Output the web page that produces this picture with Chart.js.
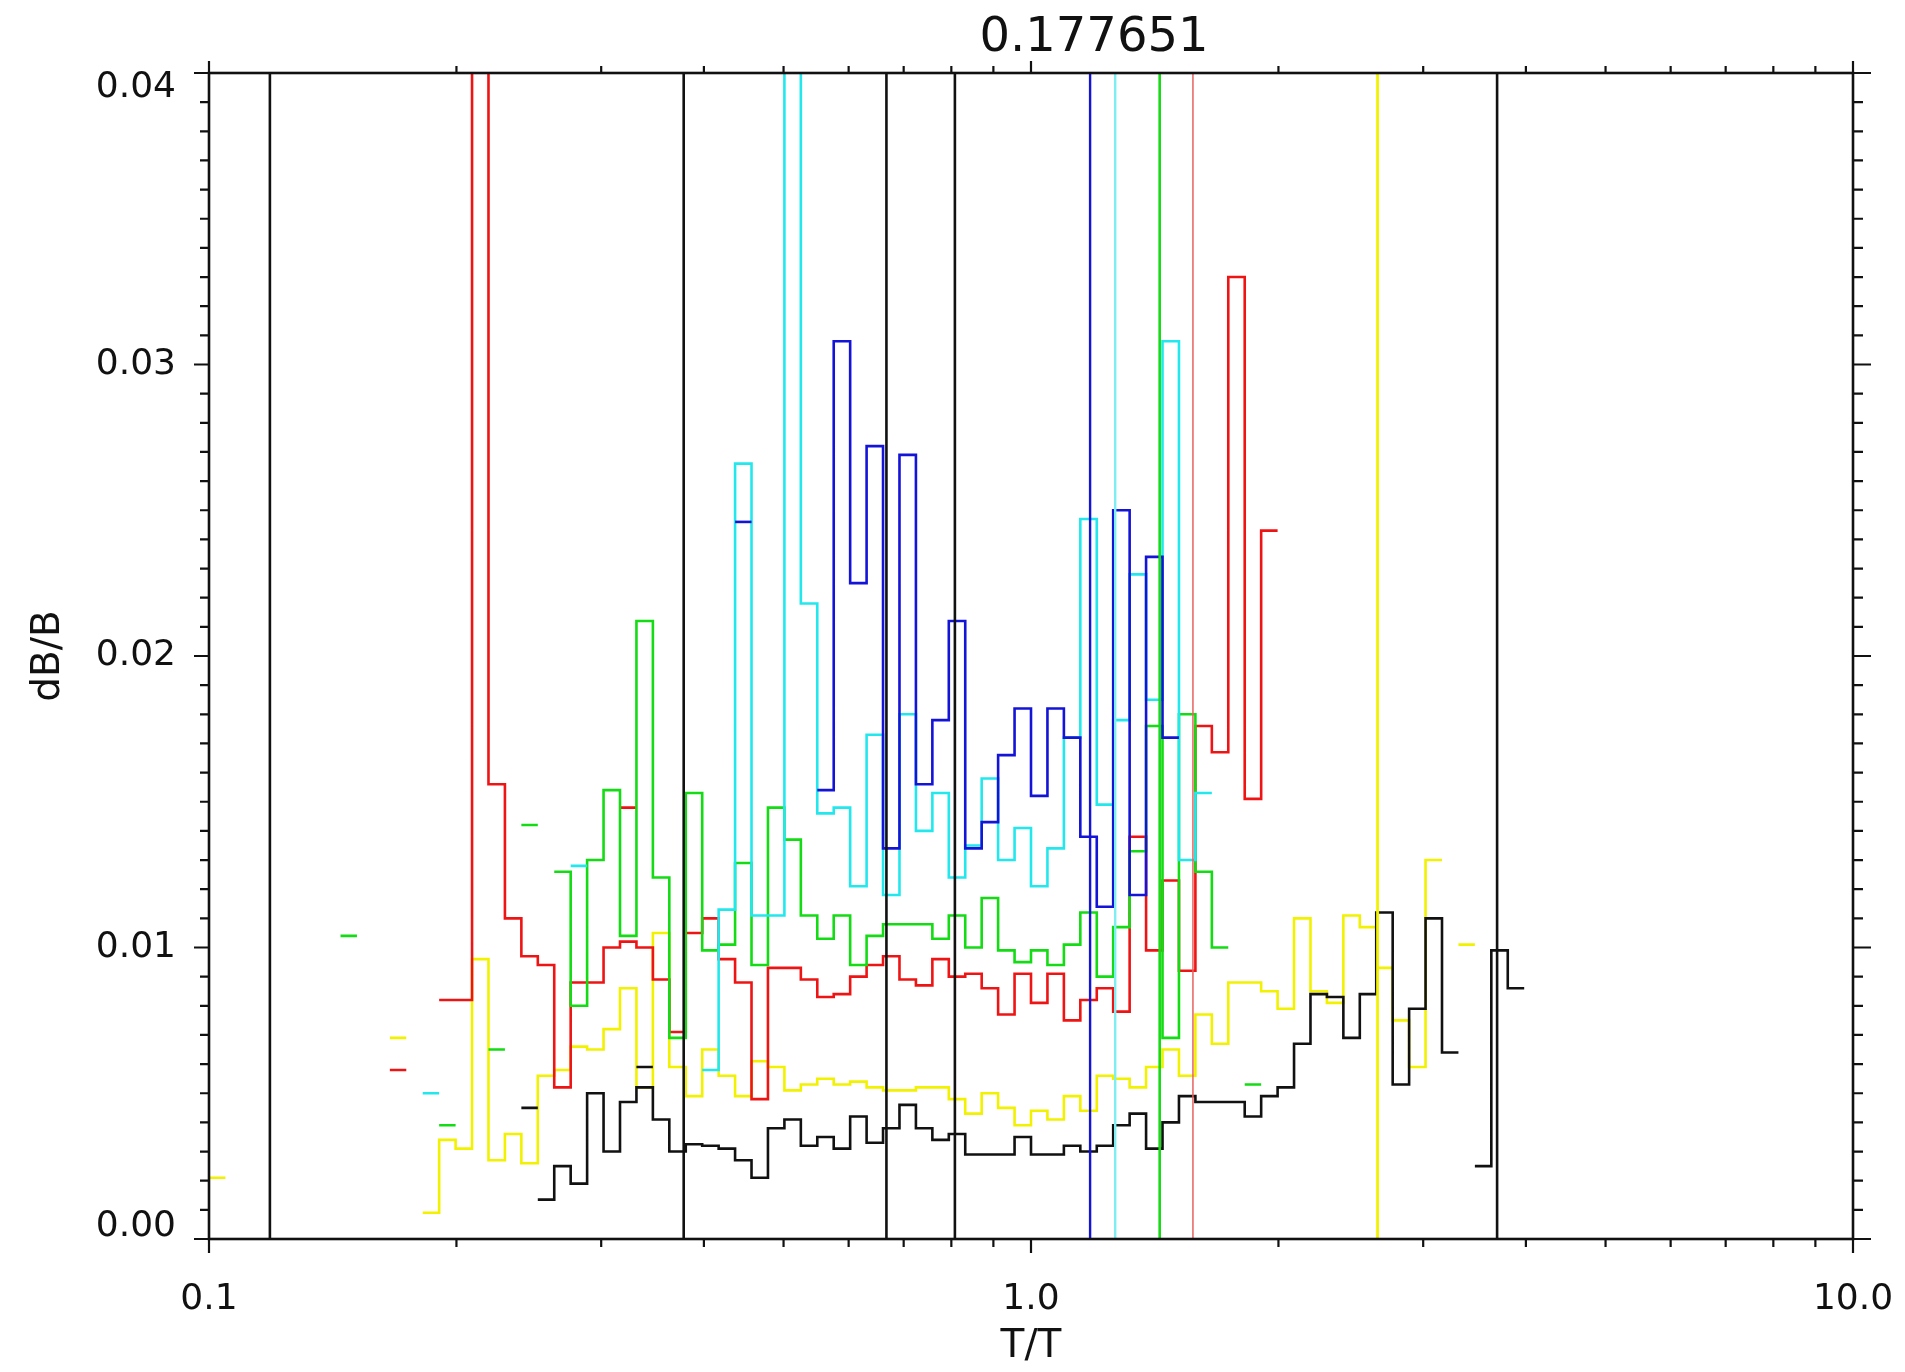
<!DOCTYPE html>
<html>
<head>
<meta charset="utf-8">
<script src="https://cdn.jsdelivr.net/npm/chart.js@4/dist/chart.umd.min.js"></script>
<style>
html,body{margin:0;padding:0;background:#ffffff;}
canvas{display:block;}
</style>
</head>
<body>
<canvas id="c" width="1905" height="1372" style="width:1905px;height:1372px"></canvas>
<script>
// ---------------- text ----------------
const titleText = '0.177651';
const xAxisLabel = 'T/T';
const yAxisLabel = 'dB/B';
const xTickValues = [0.1, 1, 10];
const xTickLabels = ['0.1', '1.0', '10.0'];
const yTickValues = [0, 0.01, 0.02, 0.03, 0.04];
const yTickLabels = ['0.00', '0.01', '0.02', '0.03', '0.04'];
const xRange = [0.1, 10];
const yRange = [0, 0.04];

// ---------------- bins ----------------
// histogram bins are 0.02 dex wide in T/T; bin k spans 10^(0.02k) .. 10^(0.02(k+1))
const binLogWidth = 0.02;

// ---------------- series (dB/B per bin, null = empty bin) ----------------
const blackFrom = -30;
const blackVals = [0.00135, 0.0025, 0.0019, 0.0050, 0.0030, 0.0047, 0.0052, 0.0041, 0.0030, 0.00325,
  0.0032, 0.0031, 0.0027, 0.0021, 0.0038, 0.0041, 0.0032, 0.0035, 0.0031, 0.0042,
  0.0033, 0.0038, 0.0046, 0.0038, 0.0034, 0.0036, 0.0029, 0.0029, 0.0029, 0.0035,
  0.0029, 0.0029, 0.0032, 0.0030, 0.0032, 0.0039, 0.0043, 0.0031, 0.0040, 0.0049,
  0.0047, 0.0047, 0.0047, 0.0042, 0.0049, 0.0052, 0.0067, 0.0084, 0.0083, 0.0069,
  0.0084, 0.0112, 0.0053, 0.0079, 0.0110, 0.0064, null, 0.0025, 0.0099, 0.0086];
const blackDashBins = [-31, -24];
const blackDashVals = [0.0045, 0.0059];

const yellowFrom = -37;
const yellowVals = [0.0009, 0.0034, 0.0031, 0.0096, 0.0027, 0.0036, 0.0026,
  0.0056, 0.0058, 0.0066, 0.0065, 0.0072, 0.0086, 0.0052, 0.0105, 0.0059, 0.0049,
  0.0065, 0.0056, 0.0049, 0.0061, 0.0059, 0.0051, 0.0053, 0.0055, 0.0053, 0.0054,
  0.0052, 0.0051, 0.0051, 0.0052, 0.0052, 0.0048, 0.0043, 0.0050, 0.0045, 0.0039,
  0.0044, 0.0041, 0.0049, 0.0044, 0.0056, 0.0055, 0.0052, 0.0059, 0.0065, 0.0056,
  0.0077, 0.0067, 0.0088, 0.0088, 0.0085, 0.0079, 0.0110, 0.0085, 0.0081, 0.0111,
  0.0107, 0.0093, 0.0075, 0.0059, 0.0130];
const yellowDashBins = [-50, -39, 26];
const yellowDashVals = [0.0021, 0.0069, 0.0101];

const redFrom = -36;
const redVals = [0.0082, 0.0082, 0.0600, 0.0156, 0.0110, 0.0097,
  0.0094, 0.0052, 0.0088, 0.0088, 0.0100, 0.0102, 0.0100, 0.0089, 0.0071, 0.0105,
  0.0110, 0.0096, 0.0088, 0.0048, 0.0093, 0.0093, 0.0089, 0.0083, 0.0084, 0.0090,
  0.0094, 0.0097, 0.0089, 0.0087, 0.0096, 0.0090, 0.0091, 0.0086, 0.0077, 0.0091,
  0.0081, 0.0091, 0.0075, 0.0082, 0.0086, 0.0078, 0.0138, 0.0099, 0.0123, 0.0092,
  0.0176, 0.0167, 0.0330, 0.0151, 0.0243];
const redDashBins = [-39, -25];
const redDashVals = [0.0058, 0.0148];

const greenFrom = -29;
const greenVals = [0.0126, 0.0080, 0.0130, 0.0154, 0.0104, 0.0212, 0.0124, 0.0069, 0.0153,
  0.0099, 0.0101, 0.0129, 0.0094, 0.0148, 0.0137, 0.0111, 0.0103, 0.0111, 0.0094,
  0.0104, 0.0108, 0.0108, 0.0108, 0.0103, 0.0111, 0.0100, 0.0117, 0.0099, 0.0095,
  0.0099, 0.0094, 0.0101, 0.0112, 0.0090, 0.0107, 0.0133, 0.0176, 0.0069, 0.0180,
  0.0126, 0.0100];
const greenDashBins = [-42, -36, -33, -31, 13];
const greenDashVals = [0.0104, 0.0039, 0.0065, 0.0142, 0.0053];

const cyanFrom = -20;
const cyanVals = [0.0058, 0.0113, 0.0266, 0.0111, 0.0111, 0.0600, 0.0218, 0.0146, 0.0148, 0.0121,
  0.0173, 0.0118, 0.0180, 0.0140, 0.0153, 0.0124, 0.0135, 0.0158, 0.0130, 0.0141,
  0.0121, 0.0134, 0.0172, 0.0247, 0.0149, 0.0178, 0.0228, 0.0185, 0.0308, 0.0130,
  0.0153];
const cyanDashBins = [-37, -28];
const cyanDashVals = [0.0050, 0.0128];

const blueFrom = -13;
const blueVals = [0.0154, 0.0308, 0.0225, 0.0272, 0.0134, 0.0269, 0.0156, 0.0178, 0.0212, 0.0134, 0.0143, 0.0166, 0.0182,
  0.0152, 0.0182, 0.0172, 0.0138, 0.0114, 0.0250, 0.0118, 0.0234, 0.0172];
const blueDashBins = [-18];
const blueDashVals = [0.0246];

// vertical reference lines (T/T positions)
const markBlack = [0.1186, 0.378, 0.667, 0.808, 3.69];
const markBlue = [1.18];
const markCyan = [1.266];
const markGreen = [1.434];
const markRed = [1.574];
const markYellow = [2.64];

// ---------------- styles ----------------
const COL = {
  black: '#111111', yellow: '#f2f200', red: '#ee1414', green: '#14dc14',
  cyan: '#22e8ee', blue: '#1414d8', redThin: '#e86060', cyanThin: '#7eeef2'
};
const HIST_W = 2.6;
const FONT = 'DejaVu Sans';

// ---------------- builders ----------------
const binEdge = k => Math.pow(10, binLogWidth * k);
function stepPoints(from, vals) {
  const pts = [];
  vals.forEach((v, i) => {
    const k = from + i;
    if (v === null) { pts.push({x: binEdge(k), y: null}); return; }
    pts.push({x: binEdge(k), y: v}, {x: binEdge(k + 1), y: v});
  });
  return pts;
}
function dashPoints(bins, vals) {
  const pts = [];
  bins.forEach((k, i) => {
    pts.push({x: binEdge(k), y: vals[i]}, {x: binEdge(k + 1), y: vals[i]}, {x: binEdge(k + 1), y: null});
  });
  return pts;
}
function vlinePoints(xs) {
  const pts = [];
  xs.forEach(x => { pts.push({x, y: yRange[0]}, {x, y: yRange[1]}, {x, y: null}); });
  return pts;
}
const base = {pointRadius: 0, pointHoverRadius: 0, fill: false, tension: 0, spanGaps: false,
  borderJoinStyle: 'miter', borderCapStyle: 'butt'};
function ds(data, color, width, order) {
  return Object.assign({}, base, {data, borderColor: color, backgroundColor: color, borderWidth: width, order});
}

const datasets = [
  ds(vlinePoints(markBlack), COL.black, 2.6, 0),
  ds(vlinePoints(markBlue), COL.blue, 2.4, 0),
  ds(vlinePoints(markCyan), COL.cyanThin, 2.4, 0),
  ds(vlinePoints(markGreen), COL.green, 2.6, 0),
  ds(vlinePoints(markRed), COL.redThin, 1.5, 0),
  ds(vlinePoints(markYellow), COL.yellow, 2.8, 0),
  ds(stepPoints(blueFrom, blueVals), COL.blue, HIST_W, 1),
  ds(dashPoints(blueDashBins, blueDashVals), COL.blue, HIST_W, 1),
  ds(stepPoints(cyanFrom, cyanVals), COL.cyan, HIST_W, 2),
  ds(dashPoints(cyanDashBins, cyanDashVals), COL.cyan, HIST_W, 2),
  ds(stepPoints(greenFrom, greenVals), COL.green, HIST_W, 3),
  ds(dashPoints(greenDashBins, greenDashVals), COL.green, HIST_W, 3),
  ds(stepPoints(redFrom, redVals), COL.red, HIST_W, 4),
  ds(dashPoints(redDashBins, redDashVals), COL.red, HIST_W, 4),
  ds(stepPoints(blackFrom, blackVals), COL.black, HIST_W, 5),
  ds(dashPoints(blackDashBins, blackDashVals), COL.black, HIST_W, 5),
  ds(stepPoints(yellowFrom, yellowVals), COL.yellow, HIST_W, 6),
  ds(dashPoints(yellowDashBins, yellowDashVals), COL.yellow, HIST_W, 6)
];

// frame + IDL style tick marks on all four sides
const frameTicks = {
  id: 'frameTicks',
  afterLayout(chart) {
    const t = chart.titleBlock;
    if (t) { const w = t.right - t.left; const cx = 1094; t.left = cx - w / 2; t.right = cx + w / 2; }
  },
  beforeDraw(chart) {
    // first / last y labels sit inside the axis range (IDL style)
    const ys = chart.scales.y;
    const items = ys.getLabelItems(chart.chartArea);
    if (items && items.length && !items._shifted) {
      items[0].options.translation[1] -= 12;
      items[items.length - 1].options.translation[1] += 15;
      items._shifted = true;
    }
  },
  afterDraw(chart) {
    const {ctx, chartArea: ca} = chart;
    const xs = chart.scales.x, ys = chart.scales.y;
    ctx.save();
    ctx.strokeStyle = '#111';
    ctx.lineCap = 'butt';
    ctx.lineWidth = 2.6;
    ctx.strokeRect(ca.left, ca.top, ca.right - ca.left, ca.bottom - ca.top);
    ctx.lineWidth = 2.2;
    ctx.beginPath();
    for (let d = -1; d <= 0; d++) {
      for (let m = 1; m <= 10; m++) {
        const v = m * Math.pow(10, d);
        if (m === 10 && d === -1) continue;
        const px = xs.getPixelForValue(v);
        const major = (m === 1 || m === 10);
        const lb = major ? 14 : 8, lt = major ? 12 : 7;
        ctx.moveTo(px, ca.bottom); ctx.lineTo(px, ca.bottom + lb);
        ctx.moveTo(px, ca.top); ctx.lineTo(px, ca.top - lt);
      }
    }
    for (let i = 0; i <= 40; i++) {
      const v = i * 0.001;
      const py = ys.getPixelForValue(v);
      const major = (i % 10 === 0);
      const ll = major ? 15 : 9, lr = major ? 18 : 10;
      ctx.moveTo(ca.left - ll, py); ctx.lineTo(ca.left, py);
      ctx.moveTo(ca.right, py); ctx.lineTo(ca.right + lr, py);
    }
    ctx.stroke();
    ctx.restore();
  }
};

new Chart(document.getElementById('c'), {
  type: 'line',
  data: {datasets},
  plugins: [frameTicks],
  options: {
    responsive: false,
    animation: false,
    devicePixelRatio: 1,
    layout: {padding: {left: 0, right: 52, top: 0, bottom: 0}},
    plugins: {
      legend: {display: false},
      tooltip: {enabled: false},
      title: {display: true, text: titleText, color: '#111',
        font: {family: FONT, size: 48, weight: 'normal', lineHeight: 1.2},
        padding: {top: 10, bottom: 5.4}}
    },
    scales: {
      x: {
        type: 'logarithmic', position: 'bottom', min: xRange[0], max: xRange[1],
        afterBuildTicks: s => { s.ticks = xTickValues.map(v => ({value: v})); },
        ticks: {autoSkip: false, maxRotation: 0, minRotation: 0, padding: 39, color: '#111',
          font: {family: FONT, size: 36},
          callback: (v) => { const i = xTickValues.indexOf(v); return i >= 0 ? xTickLabels[i] : ''; }},
        grid: {display: false, drawTicks: false},
        border: {display: false},
        title: {display: true, text: xAxisLabel, color: '#111', font: {family: FONT, size: 39},
          padding: {top: 0, bottom: 2}},
        afterFit: s => { s.height = 133; s.paddingLeft = 0; s.paddingRight = 0; }
      },
      y: {
        type: 'linear', position: 'left', min: yRange[0], max: yRange[1],
        afterBuildTicks: s => { s.ticks = yTickValues.map(v => ({value: v})); },
        ticks: {autoSkip: false, padding: 33, color: '#111', font: {family: FONT, size: 36},
          callback: (v) => { const i = yTickValues.findIndex(t => Math.abs(t - v) < 1e-9); return i >= 0 ? yTickLabels[i] : ''; }},
        grid: {display: false, drawTicks: false},
        border: {display: false},
        title: {display: true, text: yAxisLabel, color: '#111', font: {family: FONT, size: 39},
          padding: {top: 25, bottom: 0}},
        afterFit: s => { s.width = 209; s.paddingTop = 0; s.paddingBottom = 0; }
      }
    }
  }
});
</script>
</body>
</html>
